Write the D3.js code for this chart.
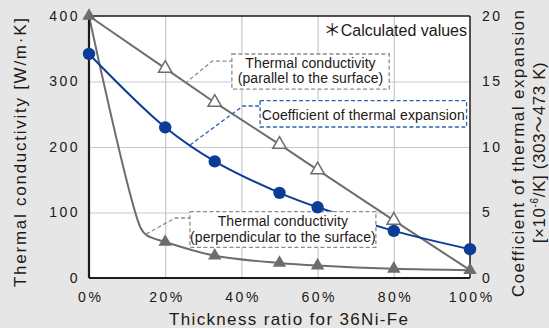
<!DOCTYPE html>
<html>
<head>
<meta charset="utf-8">
<script src="https://cdn.jsdelivr.net/npm/d3@7"></script>
<style>
  body { margin: 0; background: #e6e6e6; }
  svg { display: block; }
  text { font-family: "Liberation Sans", Arial, sans-serif; fill: #231815; }
  .cjk { font-family: "Noto Sans CJK JP", sans-serif; }
</style>
</head>
<body>
<div id="chart"></div>
<script>
// thickness ratio of 36Ni-Fe (%)
const ratios = [0, 20, 33, 50, 60, 80, 100];
// thermal conductivity, parallel to the surface (W/m·K)
const kParallel = [400, 320, 268, 204, 165, 88, 12];
// thermal conductivity, perpendicular to the surface (W/m·K)
const kPerpendicular = [400, 55, 34, 23, 19, 14, 12];
// coefficient of thermal expansion (x10^-6/K)
const cte = [17.1, 11.5, 8.9, 6.5, 5.4, 3.6, 2.2];
const perpKnotRatios = [13.6, 15.2];
const perpKnotValues = [76, 65];

const xTicks = [0, 20, 40, 60, 80, 100];
const yTicks = [0, 100, 200, 300, 400];
const y2Ticks = [0, 5, 10, 15, 20];

const W = 549, H = 328;
const margin = { top: 16, right: 79, bottom: 50, left: 89 };
const width = W - margin.left - margin.right;
const height = H - margin.top - margin.bottom;

const grey = '#6d6d6d';
const blue = '#0b3d98';
const ink = '#231815';

const svg = d3.select('#chart').append('svg')
    .attr('width', W)
    .attr('height', H);

svg.append('rect').attr('width', W).attr('height', H).attr('fill', '#e6e6e6');

const g = svg.append('g')
    .attr('transform', 'translate(' + margin.left + ',' + margin.top + ')');

const x = d3.scaleLinear().domain([0, 100]).range([0, width]);
const y = d3.scaleLinear().domain([0, 400]).range([height, 0]);
const y2 = d3.scaleLinear().domain([0, 20]).range([height, 0]);

g.append('rect').attr('width', width).attr('height', height).attr('fill', '#fff');

// grid
g.append('g')
    .attr('transform', 'translate(0,' + height + ')')
    .call(d3.axisBottom(x).tickValues(xTicks.slice(1, -1)).tickSize(-height).tickFormat(''))
    .call(s => s.select('.domain').remove())
    .selectAll('line').attr('stroke', '#c4c9d1').attr('stroke-width', 1.2);
g.append('g')
    .call(d3.axisLeft(y).tickValues(yTicks.slice(1, -1)).tickSize(-width).tickFormat(''))
    .call(s => s.select('.domain').remove())
    .selectAll('line').attr('stroke', '#c4c9d1').attr('stroke-width', 1.2);

// series lines
const parPts = ratios.map((r, i) => [r, kParallel[i]]);
const perpPts = ratios.map((r, i) => [r, kPerpendicular[i]]);
const perpCurve = perpPts.concat(perpKnotRatios.map((r, i) => [r, perpKnotValues[i]]))
    .sort((a, b) => a[0] - b[0]);
const ctePts = ratios.map((r, i) => [r, cte[i]]);

const lineK = d3.line().x(d => x(d[0])).y(d => y(d[1]));
const lineKCurve = d3.line().x(d => x(d[0])).y(d => y(d[1])).curve(d3.curveCatmullRom.alpha(0.5));
const lineCte = d3.line().x(d => x(d[0])).y(d => y2(d[1])).curve(d3.curveCatmullRom.alpha(0.5));

g.append('path').datum(perpCurve).attr('d', lineKCurve)
    .attr('fill', 'none').attr('stroke', grey).attr('stroke-width', 2);
g.append('path').datum(parPts).attr('d', lineK)
    .attr('fill', 'none').attr('stroke', grey).attr('stroke-width', 2);
g.append('path').datum(ctePts).attr('d', lineCte)
    .attr('fill', 'none').attr('stroke', blue).attr('stroke-width', 2);

// annotation boxes with leader lines (placed in data units)
function note(leader, box, lines, baselines, stroke) {
    const a = g.append('g');
    a.append('path')
        .attr('d', d3.line()(leader.map(p => [x(p[0]), y(p[1])])))
        .attr('fill', 'none').attr('stroke', stroke).attr('stroke-width', 1.3)
        .attr('stroke-dasharray', '4,2.5');
    const x0 = x(box[0]), x1 = x(box[1]), y0 = y(box[2]), y1 = y(box[3]);
    a.append('rect')
        .attr('x', x0).attr('y', y0).attr('width', x1 - x0).attr('height', y1 - y0)
        .attr('fill', '#fff').attr('stroke', stroke).attr('stroke-width', 1.3)
        .attr('stroke-dasharray', '4,2.5');
    lines.forEach((t, i) => {
        a.append('text')
            .attr('x', (x0 + x1) / 2).attr('y', y0 + baselines[i])
            .attr('text-anchor', 'middle')
            .attr('font-size', 14)
            .attr('letter-spacing', 0.1)
            .text(t);
    });
}

note([[25.2, 297], [32.3, 331], [37.5, 331]], [37.5, 78.8, 342, 288.5],
    ['Thermal conductivity', '(parallel to the surface)'], [14.3, 29.5], '#8c8c8c');
note([[26.5, 203], [40.4, 262.6], [44.9, 262.6]], [44.9, 99.1, 270.7, 230.5],
    ['Coefficient of thermal expansion'], [19.3], '#2c5fae');
note([[15, 67], [22.6, 91.6], [26.5, 91.6]], [26.5, 75.3, 101.2, 46.9],
    ['Thermal conductivity', '(perpendicular to the surface)'], [14.3, 29.8], '#8c8c8c');

const calc = g.append('text')
    .attr('x', width - 3).attr('y', 20)
    .attr('text-anchor', 'end')
    .attr('font-size', 16);
calc.append('tspan').attr('class', 'cjk').attr('font-size', 17).text('＊');
calc.append('tspan').text('Calculated values');

// frame
g.append('line').attr('x1', 0).attr('x2', width).attr('y1', 0).attr('y2', 0)
    .attr('stroke', ink).attr('stroke-width', 1.5);
g.append('line').attr('x1', width).attr('x2', width).attr('y1', 0).attr('y2', height)
    .attr('stroke', ink).attr('stroke-width', 1.5);
g.append('line').attr('x1', 0).attr('x2', 0).attr('y1', 0).attr('y2', height)
    .attr('stroke', ink).attr('stroke-width', 2.2);
g.append('line').attr('x1', 0).attr('x2', width).attr('y1', height).attr('y2', height)
    .attr('stroke', ink).attr('stroke-width', 2.2);

// markers
const tri = d3.symbol().type(d3.symbolTriangle).size(78);
g.selectAll('.tri-perp').data(perpPts).enter().append('path')
    .attr('class', 'tri-perp')
    .attr('d', tri)
    .attr('transform', d => 'translate(' + x(d[0]) + ',' + y(d[1]) + ')')
    .attr('fill', grey);
g.selectAll('.tri-par').data(parPts.slice(1, -1)).enter().append('path')
    .attr('class', 'tri-par')
    .attr('d', tri)
    .attr('transform', d => 'translate(' + x(d[0]) + ',' + y(d[1]) + ')')
    .attr('fill', '#fff').attr('stroke', grey).attr('stroke-width', 1.5);
g.selectAll('.dot').data(ctePts).enter().append('circle')
    .attr('class', 'dot')
    .attr('cx', d => x(d[0])).attr('cy', d => y2(d[1]))
    .attr('r', 6.2)
    .attr('fill', blue);

// axes
function tickStyle(s) {
    s.select('.domain').remove();
    s.selectAll('text').attr('font-size', 14).attr('letter-spacing', 2.5)
        .attr('fill', ink).attr('font-family', '"Liberation Sans", Arial, sans-serif');
}
g.append('g')
    .call(d3.axisLeft(y).tickValues(yTicks).tickSize(0).tickPadding(9))
    .call(tickStyle);
g.append('g')
    .attr('transform', 'translate(0,' + height + ')')
    .call(d3.axisBottom(x).tickValues(xTicks).tickSize(0).tickPadding(14).tickFormat(d => d + '%'))
    .call(tickStyle)
    .selectAll('text').attr('dx', 1.2);
g.append('g')
    .attr('transform', 'translate(' + width + ',0)')
    .call(d3.axisRight(y2).tickValues(y2Ticks).tickSize(0).tickPadding(12))
    .call(tickStyle);

// axis titles
svg.append('text')
    .attr('transform', 'translate(20,152.5) rotate(-90)')
    .attr('dy', '0.35em')
    .attr('text-anchor', 'middle')
    .attr('font-size', 17)
    .attr('textLength', 269).attr('lengthAdjust', 'spacing')
    .text('Thermal conductivity [W/m·K]');

svg.append('text')
    .attr('x', 288.5).attr('y', 325)
    .attr('text-anchor', 'middle')
    .attr('font-size', 17)
    .attr('textLength', 239).attr('lengthAdjust', 'spacing')
    .text('Thickness ratio for 36Ni-Fe');

svg.append('text')
    .attr('transform', 'translate(524,153.5) rotate(-90)')
    .attr('text-anchor', 'middle')
    .attr('font-size', 17)
    .attr('textLength', 287).attr('lengthAdjust', 'spacing')
    .text('Coefficient of thermal expansion');

const t2 = svg.append('text')
    .attr('transform', 'translate(545,152.5) rotate(-90)')
    .attr('text-anchor', 'middle')
    .attr('font-size', 17)
    .attr('letter-spacing', 0.6);
t2.append('tspan').text('[×10');
t2.append('tspan').attr('font-size', 10).attr('dy', -7).text('-6');
t2.append('tspan').attr('dy', 7).text('/K] (303');
t2.append('tspan').attr('class', 'cjk').text('～');
t2.append('tspan').text('473 K)');
</script>
</body>
</html>
